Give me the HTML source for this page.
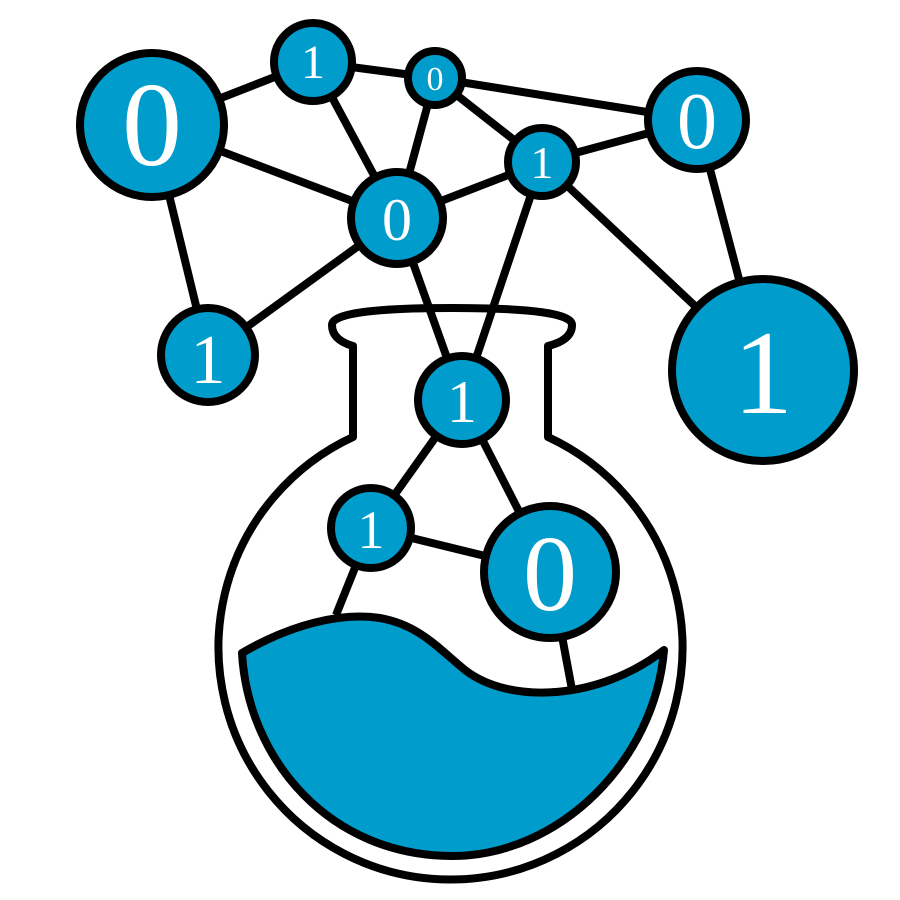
<!DOCTYPE html>
<html><head><style>html,body{margin:0;padding:0;background:#fff}svg{display:block}</style></head>
<body>
<svg width="900" height="900" viewBox="0 0 900 900" xmlns="http://www.w3.org/2000/svg">
<g stroke="#000" stroke-width="8" fill="none" stroke-linecap="round">
<line x1="152" y1="125" x2="313" y2="62"/>
<line x1="152" y1="125" x2="397" y2="218"/>
<line x1="152" y1="125" x2="208" y2="355"/>
<line x1="313" y1="62" x2="435" y2="78"/>
<line x1="313" y1="62" x2="397" y2="218"/>
<line x1="435" y1="78" x2="697" y2="120"/>
<line x1="435" y1="78" x2="397" y2="218"/>
<line x1="435" y1="78" x2="542" y2="162"/>
<line x1="542" y1="162" x2="697" y2="120"/>
<line x1="542" y1="162" x2="397" y2="218"/>
<line x1="542" y1="162" x2="763" y2="370"/>
<line x1="697" y1="120" x2="763" y2="370"/>
<line x1="397" y1="218" x2="208" y2="355"/>
</g>
<path d="M353,346 L353,437 A232,232 0 1 0 548,437 L548,346 Q572,340 572,325 Q572,308 452,308 Q332,308 332,325 Q332,340 353,346 Z" fill="#fff" stroke="#000" stroke-width="8" stroke-linejoin="round"/>
<g stroke="#000" stroke-width="8">
<line x1="542" y1="162" x2="462" y2="400"/>
<line x1="397" y1="218" x2="462" y2="400"/>
<line x1="462" y1="400" x2="371" y2="528"/>
<line x1="462" y1="400" x2="550" y2="572"/>
<line x1="371" y1="528" x2="550" y2="572"/>
<line x1="371" y1="528" x2="336" y2="615"/>
<line x1="550" y1="572" x2="573" y2="695"/>
</g>
<path d="M242,653 C290,625 340,612 380,618 C420,625 440,650 465,670 C510,705 600,700 664,650 C655,760 560,856 452,856 C330,856 248,760 242,653 Z" fill="#009ccc" stroke="#000" stroke-width="8" stroke-linejoin="round"/>
<g fill="#009ccc" stroke="#000" stroke-width="8">
<circle cx="152" cy="125" r="72"/>
<circle cx="313" cy="62" r="39"/>
<circle cx="435" cy="78" r="27"/>
<circle cx="697" cy="120" r="49"/>
<circle cx="542" cy="162" r="34"/>
<circle cx="397" cy="218" r="46"/>
<circle cx="208" cy="355" r="47"/>
<circle cx="763" cy="370" r="91"/>
<circle cx="462" cy="400" r="44"/>
<circle cx="371" cy="528" r="40"/>
<circle cx="550" cy="572" r="66"/>
</g>
<g fill="#fff" font-family="Liberation Serif, serif" text-anchor="middle">
<text x="152" y="165" font-size="120">0</text>
<text x="313" y="78" font-size="48">1</text>
<text x="435" y="90" font-size="34">0</text>
<text x="697" y="148" font-size="80">0</text>
<text x="542" y="178" font-size="46">1</text>
<text x="397" y="240" font-size="60">0</text>
<text x="208" y="383" font-size="70">1</text>
<text x="763" y="413" font-size="120">1</text>
<text x="462" y="422" font-size="60">1</text>
<text x="371" y="548" font-size="54">1</text>
<text x="550" y="610" font-size="108">0</text>
</g>
</svg>
</body></html>
